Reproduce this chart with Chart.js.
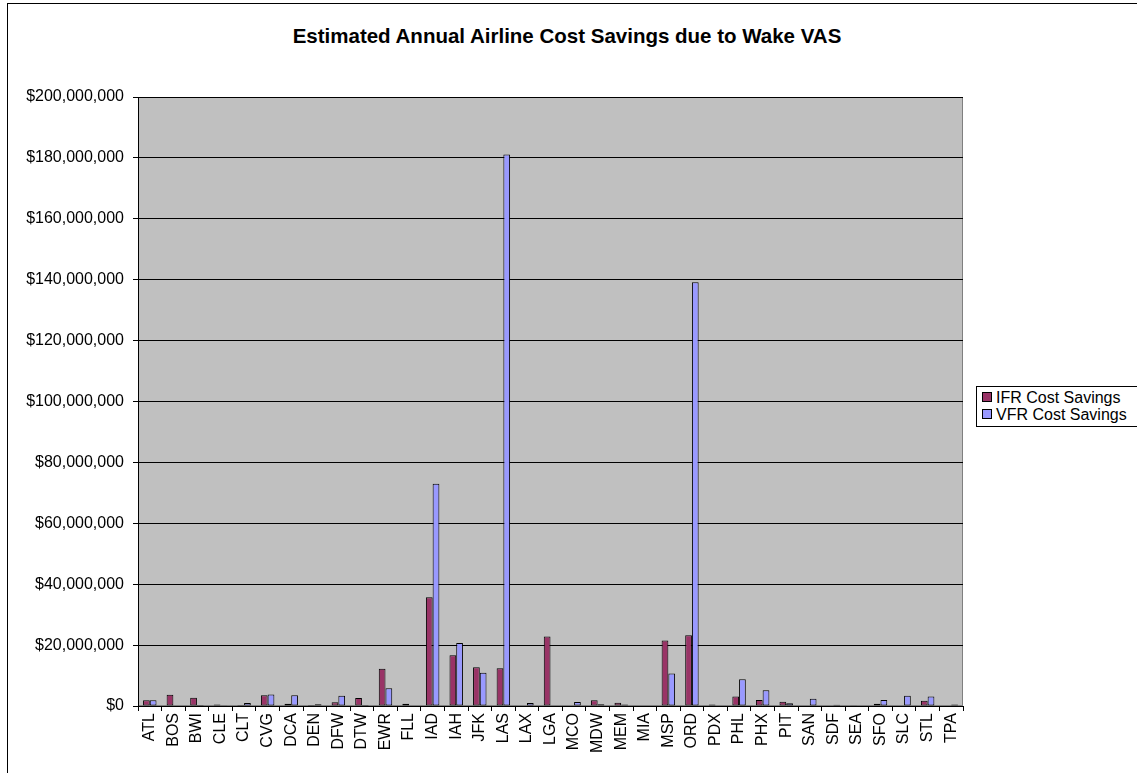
<!DOCTYPE html>
<html>
<head>
<meta charset="utf-8">
<script src="https://cdn.jsdelivr.net/npm/chart.js@4/dist/chart.umd.min.js"></script>
<style>
  html, body { margin: 0; padding: 0; background: #ffffff; }
  #wrap { position: relative; width: 1137px; height: 773px; overflow: hidden; }
  #frame { position: absolute; left: 7px; top: 3px; width: 1140px; height: 800px; border: 1px solid #000; box-sizing: border-box; }
  #titulo { position: absolute; left: 0; top: 25px; width: 1134px; text-align: center; line-height: 22px;
            font-family: "Liberation Sans", Arial, sans-serif; font-size: 20.5px; font-weight: bold; color: #000; }
  #legend { position: absolute; left: 976px; top: 386px; width: 165px; height: 41px; border: 1px solid #000;
            box-sizing: border-box; font-family: "Liberation Sans", Arial, sans-serif; font-size: 16px; background: #fff; }
  .item { position: absolute; left: 5px; height: 18px; line-height: 18px; white-space: nowrap; }
  .sw { display: inline-block; width: 8px; height: 8px; border: 1px solid #000; margin-right: 4px; vertical-align: 1px; }
  canvas { position: absolute; left: 0; top: 0; }
</style>
</head>
<body>
<div id="wrap">
  <div id="frame"></div>
  <div id="titulo">Estimated Annual Airline Cost Savings due to Wake VAS</div>
  <canvas id="grafico" width="1137" height="773"></canvas>
  <div id="legend">
    <div class="item" style="top:2px"><span class="sw" style="background:#993366"></span>IFR Cost Savings</div>
    <div class="item" style="top:19px"><span class="sw" style="background:#9999FF"></span>VFR Cost Savings</div>
  </div>
</div>
<script>
const airports = ["ATL", "BOS", "BWI", "CLE", "CLT", "CVG", "DCA", "DEN", "DFW", "DTW", "EWR", "FLL",
    "IAD", "IAH", "JFK", "LAS", "LAX", "LGA", "MCO", "MDW", "MEM", "MIA", "MSP", "ORD", "PDX",
    "PHL", "PHX", "PIT", "SAN", "SDF", "SEA", "SFO", "SLC", "STL", "TPA"];

const ifrSavings = [1900000, 3700000, 2700000, 500000, 300000, 3500000, 700000, 300000, 1200000, 2600000,
    12200000, 700000, 35700000, 16700000, 12700000, 12400000, 200000, 22800000, 200000, 1900000,
    1100000, 0, 21500000, 23200000, 500000, 3100000, 2000000, 1400000, 0, 200000,
    100000, 700000, 200000, 1700000, 200000];

const vfrSavings = [1900000, 0, 300000, 100000, 1000000, 3800000, 3500000, 600000, 3400000, 300000,
    5800000, 200000, 73000000, 20700000, 10900000, 181100000, 1000000, 0, 1300000, 600000,
    500000, 0, 10700000, 139200000, 0, 8800000, 5200000, 900000, 2400000, 400000,
    0, 2000000, 3400000, 3100000, 500000];

const yTicks = [0, 20000000, 40000000, 60000000, 80000000, 100000000, 120000000, 140000000,
    160000000, 180000000, 200000000];

const fuente = "'Liberation Sans', Arial, sans-serif";

const fondoPlot = {
    id: "fondoPlot",
    beforeDraw(chart) {
        const { ctx, chartArea: a } = chart;
        ctx.save();
        ctx.fillStyle = "#C0C0C0";
        ctx.fillRect(a.left, a.top, a.right - a.left, a.bottom - a.top);
        ctx.strokeStyle = "#808080";
        ctx.lineWidth = 1;
        ctx.strokeRect(a.left + 0.5, a.top + 0.5, a.right - a.left - 1, a.bottom - a.top - 1);
        ctx.restore();
    }
};

new Chart(document.getElementById("grafico"), {
    type: "bar",
    data: {
        labels: airports,
        datasets: [{
            label: "IFR Cost Savings",
            data: ifrSavings,
            backgroundColor: "#993366",
            borderColor: "#000000",
            borderWidth: 1,
            borderSkipped: false
        }, {
            label: "VFR Cost Savings",
            data: vfrSavings,
            backgroundColor: "#9999FF",
            borderColor: "#000000",
            borderWidth: 1,
            borderSkipped: false
        }]
    },
    options: {
        responsive: false,
        animation: false,
        events: [],
        datasets: {
            bar: { categoryPercentage: 0.571, barPercentage: 1 }
        },
        layout: { padding: { left: 0, right: 174, top: 97, bottom: 0 } },
        plugins: {
            legend: { display: false },
            tooltip: { enabled: false },
            title: { display: false }
        },
        scales: {
            x: {
                grid: { display: true, offset: true, drawOnChartArea: false, color: "#000000", tickLength: 5 },
                border: { color: "#000000" },
                ticks: {
                    color: "#000000",
                    font: { family: fuente, size: 16 },
                    minRotation: 90,
                    maxRotation: 90,
                    autoSkip: false,
                    padding: 2
                },
                afterFit(scale) { scale.height = 67; }
            },
            y: {
                min: 0,
                max: 200000000,
                afterBuildTicks(scale) { scale.ticks = yTicks.map(v => ({ value: v })); },
                grid: { color: "#000000", lineWidth: 1, tickLength: 5 },
                border: { color: "#000000" },
                ticks: {
                    color: "#000000",
                    font: { family: fuente, size: 16 },
                    padding: 9,
                    callback: v => "$" + v.toLocaleString("en-US")
                },
                afterFit(scale) { scale.width = 138; }
            }
        }
    },
    plugins: [fondoPlot]
});
</script>
</body>
</html>
